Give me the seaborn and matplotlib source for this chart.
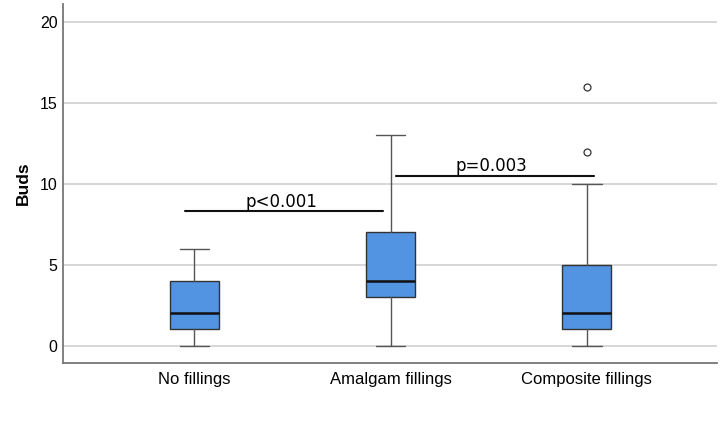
import matplotlib
matplotlib.use("Agg")
import matplotlib.pyplot as plt
import seaborn as sns

# Data (box-plot summary statistics)
categories = ["No fillings", "Amalgam fillings", "Composite fillings"]
whisker_low = [0, 0, 0]
q1 = [1, 3, 1]
medians = [2, 4, 2]
q3 = [4, 7, 5]
whisker_high = [6, 13, 10]
outliers = [[], [], [12, 16]]

# Significance annotations
comp_labels = ["p<0.001", "p=0.003"]
comp_heights = [8.3, 10.5]
comp_start = [-0.048, 1.025]
comp_end = [0.962, 2.036]

yticks = [0, 5, 10, 15, 20]

sns.set_style("white")
plt.rcParams["font.family"] = ["Liberation Sans", "DejaVu Sans"]
plt.rcParams["text.color"] = "black"
plt.rcParams["axes.labelcolor"] = "black"
plt.rcParams["xtick.color"] = "black"
plt.rcParams["ytick.color"] = "black"

fig = plt.figure(figsize=(7.25, 4.26), dpi=100)
ax = fig.add_axes([0.0869, 0.1472, 0.9021, 0.8434])

stats = []
for i, name in enumerate(categories):
    stats.append(dict(label=name, whislo=whisker_low[i], q1=q1[i], med=medians[i],
                      q3=q3[i], whishi=whisker_high[i], fliers=outliers[i]))

box_color = "#5294E2"
ax.bxp(stats, positions=list(range(len(categories))), widths=0.25,
       patch_artist=True, showfliers=True,
       boxprops=dict(facecolor=box_color, edgecolor="#333333", linewidth=1.0),
       medianprops=dict(color="#111111", linewidth=1.8),
       whiskerprops=dict(color="#555555", linewidth=1.0),
       capprops=dict(color="#555555", linewidth=1.0),
       capwidths=0.15,
       flierprops=dict(marker="o", markerfacecolor="none", markeredgecolor="#333333",
                       markersize=5, markeredgewidth=0.9),
       zorder=3)

ax.set_xlim(-0.67, 2.663)
ax.set_ylim(-1.09, 21.13)
ax.set_yticks(yticks)
ax.set_yticklabels([str(t) for t in yticks], fontsize=11.5)
ax.set_xticks(range(len(categories)))
ax.set_xticklabels(categories, fontsize=12)
ax.tick_params(axis="both", length=0, pad=4, colors="black")
ax.tick_params(axis="x", pad=6)

ax.grid(axis="y", color="#cccccc", linewidth=1.1, zorder=0)
ax.set_axisbelow(True)
for s in ["top", "right"]:
    ax.spines[s].set_visible(False)
for s in ["left", "bottom"]:
    ax.spines[s].set_color("#777777")
    ax.spines[s].set_linewidth(1.3)

ax.set_ylabel("Buds", fontsize=12.5, fontweight="bold", labelpad=6, color="black")

for x0, x1, h, label in zip(comp_start, comp_end, comp_heights, comp_labels):
    ax.plot([x0, x1], [h, h], color="#111111", linewidth=1.5, zorder=4)
    ax.text((x0 + x1) / 2 - 0.015, h + 0.3, label, ha="center", va="baseline",
            fontsize=12, family="DejaVu Sans", color="black")

fig.savefig("out.png", dpi=100)
